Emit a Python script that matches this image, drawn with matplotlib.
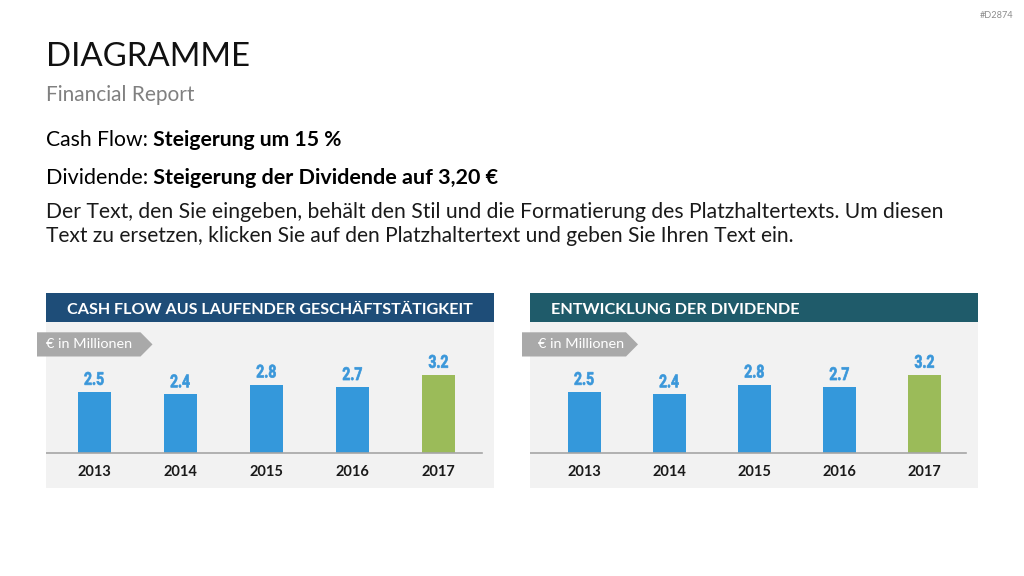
import matplotlib
matplotlib.use('Agg')
import matplotlib.pyplot as plt
from matplotlib.patches import Rectangle, Polygon, PathPatch
from matplotlib.textpath import TextPath
from matplotlib.font_manager import FontProperties
from matplotlib.transforms import Affine2D, IdentityTransform

# ---------------- data ----------------
years = ['2013', '2014', '2015', '2016', '2017']
cash_flow = [2.5, 2.4, 2.8, 2.7, 3.2]
dividend = [2.5, 2.4, 2.8, 2.7, 3.2]
bar_colors = ['#3498DB', '#3498DB', '#3498DB', '#3498DB', '#9BBB59']
value_labels_cf = ['2.5', '2.4', '2.8', '2.7', '3.2']
value_labels_dv = ['2.5', '2.4', '2.8', '2.7', '3.2']

title = 'DIAGRAMME'
subtitle = 'Financial Report'
line1 = ('Cash Flow:', ' Steigerung um 15 %')
line2 = ('Dividende:', ' Steigerung der Dividende auf 3,20 €')
para1 = 'Der Text, den Sie eingeben, behält den Stil und die Formatierung des Platzhaltertexts. Um diesen'
para2 = 'Text zu ersetzen, klicken Sie auf den Platzhaltertext und geben Sie Ihren Text ein.'
head_left = 'CASH FLOW AUS LAUFENDER GESCHÄFTSTÄTIGKEIT'
head_right = 'ENTWICKLUNG DER DIVIDENDE'
unit_tag = '€ in Millionen'
code_tag = '#D2874'

# ---------------- figure ----------------
W, H = 1024, 576
fig = plt.figure(figsize=(W / 100, H / 100), dpi=100)
fig.patch.set_facecolor('white')
renderer = fig.canvas.get_renderer()
FONT = 'Lato'


def px(x, y):
    return x / W, 1 - y / H


def fit_line(x, yb, parts, width, size0=12, family=FONT, color='black'):
    texts = []
    for s, w in parts:
        t = fig.text(0, 0, s, fontsize=size0, fontweight=w, family=family,
                     color=color, va='baseline', ha='left')
        texts.append(t)
    tot = sum(t.get_window_extent(renderer).width for t in texts)
    size = size0 * width / tot
    cx = x
    for t in texts:
        t.set_fontsize(size)
        t.set_position(px(cx, yb))
        cx += t.get_window_extent(renderer).width
    return size


# header texts
fit_line(46, 66.5, [(title, 'normal')], 204, size0=26, color='#111111')
fit_line(46, 101, [(subtitle, 'normal')], 149, size0=15, color='#808080')
fit_line(46, 146.5, [(line1[0], 'normal'), (line1[1], 'bold')], 297, size0=15)
fit_line(46, 183.5, [(line2[0], 'normal'), (line2[1], 'bold')], 453, size0=15)
fit_line(46, 218, [(para1, 'normal')], 897, size0=15, color='#1A1A1A')
fit_line(46, 242, [(para2, 'normal')], 751, size0=15, color='#1A1A1A')
fit_line(980, 17.5, [(code_tag, 'normal')], 34, size0=7, color='#8C8C8C')

VAL_FP = FontProperties(family='Roboto', weight='bold')


def condensed_label(ax, x, y, s, color, cap_h=13.0, width=19.0):
    """Draw a narrow, tall label centred at data point (x, y)."""
    tp = TextPath((0, 0), s, size=10, prop=VAL_FP)
    ext = tp.get_extents()
    x0, x1, y0, y1 = ext.x0, ext.x1, ext.y0, ext.y1
    sy = cap_h / (y1 - y0)
    sx = width / (x1 - x0)
    cx, cy = ax.transData.transform((x, y))
    tr = (Affine2D().translate(-(x0 + x1) / 2, -(y0 + y1) / 2)
          .scale(sx, sy).translate(cx, cy))
    patch = PathPatch(tp, transform=tr + IdentityTransform(), facecolor=color,
                      edgecolor=color, lw=0.5, zorder=5)
    fig.add_artist(patch)


def panel(x0, x1, head_color, head_text, head_w, values, labels, centers_px, spacing):
    y_head0, y_head1 = 293, 322
    y_bottom = 488
    base = 453
    scale = 24.4  # px per unit
    fig.add_artist(Rectangle(px(x0, y_head1), (x1 - x0) / W, (y_head1 - y_head0) / H,
                             transform=fig.transFigure, facecolor=head_color,
                             edgecolor='none', zorder=2))
    fit_line(x0 + 21, 313.5, [(head_text, 'bold')], head_w, size0=11, color='white')

    ax = fig.add_axes([x0 / W, 1 - y_bottom / H, (x1 - x0) / W, (y_bottom - y_head1) / H])
    ax.set_facecolor('#F2F2F2')
    for s in ax.spines.values():
        s.set_visible(False)
    ax.set_xticks([])
    ax.set_yticks([])
    c0 = centers_px[0]
    ax.set_xlim((x0 - c0) / spacing, (x1 - c0) / spacing)
    ax.set_ylim(-(y_bottom - base) / scale, (base - y_head1) / scale)
    xs = list(range(len(values)))
    ax.bar(xs, values, width=33 / spacing, color=bar_colors, zorder=2)
    line_end = (x1 - 12 - x0) / (x1 - x0)
    ax.axhline(0, xmin=0, xmax=line_end, color='#A6A6A6', lw=1.2, zorder=3)
    for i, (v, lab) in enumerate(zip(values, labels)):
        condensed_label(ax, i, v + 13.5 / scale, lab, '#3A97DA')
        ax.text(i, -(472.5 - base) / scale, years[i], ha='center', va='center',
                fontsize=10.5, fontweight='bold', family=FONT, color='#1A1A1A')
    return ax


panel(46, 494, '#1E4D78', head_left, 405, cash_flow, value_labels_cf,
      [94, 181, 266.5, 352.5, 438.5], 86.1)
panel(530, 978, '#1F5B6A', head_right, 249, dividend, value_labels_dv,
      [584, 669, 754.5, 839.5, 924.5], 85.1)


def tag(x0, xtip, text_x):
    y0, y1 = 332.3, 356.5
    ym = (y0 + y1) / 2
    xr = xtip - 12
    pts = [px(x0, y0), px(xr, y0), px(xtip, ym), px(xr, y1), px(x0, y1)]
    fig.add_artist(Polygon(pts, closed=True, transform=fig.transFigure,
                           facecolor='#A9A9A9', edgecolor='none', zorder=5))
    t = fig.text(*px(text_x, ym), unit_tag, ha='left', va='center', fontsize=10,
                 family=FONT, color='white', zorder=6)
    w = t.get_window_extent(renderer).width
    t.set_fontsize(10 * 86 / w)


tag(37, 152.5, 45.5)
tag(522, 638, 538)

fig.savefig('out.png', dpi=100, facecolor='white')
